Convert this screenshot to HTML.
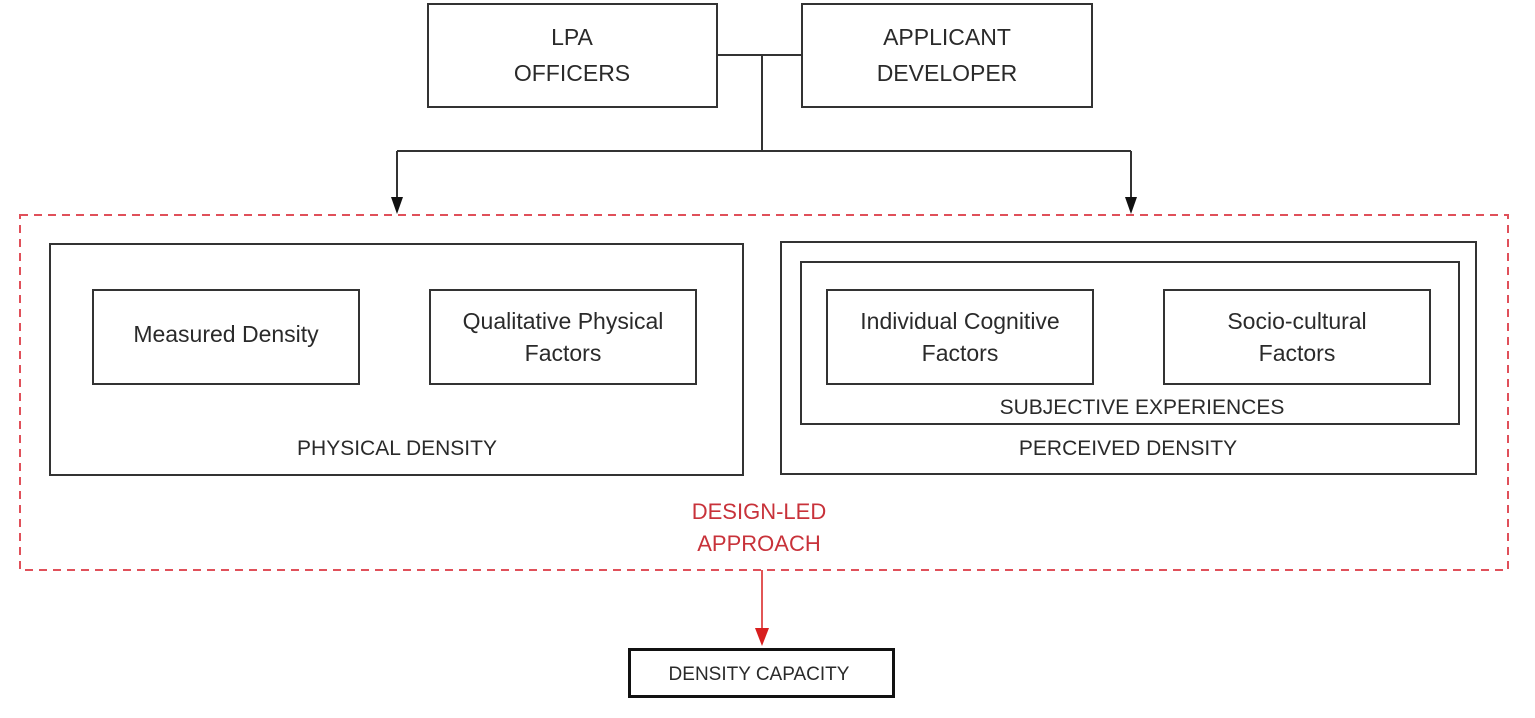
<!DOCTYPE html>
<html><head><style>
body{margin:0;width:1535px;height:713px;background:#fff;overflow:hidden}
svg text{font-family:"Liberation Sans",sans-serif;fill:#2a2a2a}
</style></head><body>
<svg width="1535" height="713" viewBox="0 0 1535 713" xmlns="http://www.w3.org/2000/svg">
<g fill="none" stroke="#333" stroke-width="2">
<rect x="428" y="4" width="289" height="103"/>
<rect x="802" y="4" width="290" height="103"/>
<path d="M717 55 H802 M762 55 V151 M397 151 H1131"/>
<path d="M397 151 V198 M1131 151 V198"/>
<rect x="50" y="244" width="693" height="231"/>
<rect x="781" y="242" width="695" height="232"/>
<rect x="801" y="262" width="658" height="162"/>
<rect x="93" y="290" width="266" height="94"/>
<rect x="430" y="290" width="266" height="94"/>
<rect x="827" y="290" width="266" height="94"/>
<rect x="1164" y="290" width="266" height="94"/>
</g>
<path d="M391 197 L403 197 L397 214 Z" fill="#111"/>
<path d="M1125 197 L1137 197 L1131 214 Z" fill="#111"/>
<rect x="20" y="215" width="1488" height="355" fill="none" stroke="#e0505a" stroke-width="2" stroke-dasharray="8,6"/>
<path d="M762 570 V630" stroke="#d81e1e" stroke-width="1.5"/>
<path d="M755 628 L769 628 L762 646 Z" fill="#d81e1e"/>
<rect x="629.5" y="649.5" width="264" height="47" fill="none" stroke="#111" stroke-width="3"/>
<g font-size="23" text-anchor="middle">
<text x="572" y="45">LPA</text><text x="572" y="81">OFFICERS</text>
<text x="947" y="45">APPLICANT</text><text x="947" y="81">DEVELOPER</text>
</g>
<g font-size="23" text-anchor="middle">
<text x="226" y="342">Measured Density</text>
<text x="563" y="329">Qualitative Physical</text><text x="563" y="361">Factors</text>
<text x="960" y="329">Individual Cognitive</text><text x="960" y="361">Factors</text>
<text x="1297" y="329">Socio-cultural</text><text x="1297" y="361">Factors</text>
</g>
<g font-size="21" text-anchor="middle">
<text x="1142" y="414">SUBJECTIVE EXPERIENCES</text>
<text x="397" y="455">PHYSICAL DENSITY</text>
<text x="1128" y="455">PERCEIVED DENSITY</text>
<text x="759" y="519" font-size="22" style="fill:#c8323a">DESIGN-LED</text>
<text x="759" y="551" font-size="22" style="fill:#c8323a">APPROACH</text>
<text x="759" y="680" font-size="19">DENSITY CAPACITY</text>
</g>
</svg>
</body></html>
